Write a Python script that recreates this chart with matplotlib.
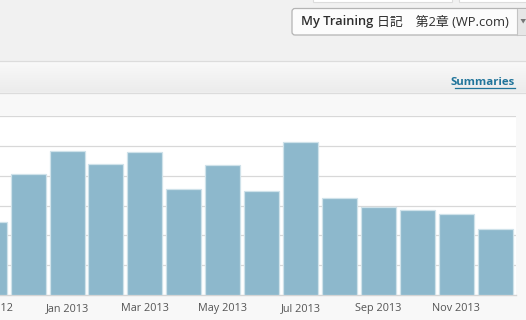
import matplotlib
matplotlib.use("Agg")
import matplotlib.pyplot as plt
from matplotlib.patches import Rectangle, FancyBboxPatch, Polygon
import numpy as np

# ---- data ----
months = ["Nov 2012", "Dec 2012", "Jan 2013", "Feb 2013", "Mar 2013", "Apr 2013",
          "May 2013", "Jun 2013", "Jul 2013", "Aug 2013", "Sep 2013", "Oct 2013",
          "Nov 2013", "Dec 2013"]
views = [244, 407, 483, 440, 478, 356, 437, 349, 514, 326, 294, 286, 271, 220]
tick_labels = ["Nov 2012", "Jan 2013", "Mar 2013", "May 2013", "Jul 2013", "Sep 2013", "Nov 2013"]
title_bold = "My Training"
title_rest = "日記　第2章 (WP.com)"
link_text = "Summaries"

W, H = 526, 320
fig = plt.figure(figsize=(W / 100, H / 100), dpi=100)
fig.patch.set_facecolor("#f1f1f1")

# overlay axes in pixel coordinates for page chrome
ui = fig.add_axes([0, 0, 1, 1])
ui.set_zorder(0)

grad = np.linspace(0, 1, 64).reshape(-1, 1)
ui.imshow(grad, extent=[0, W, 92, 61], cmap=matplotlib.colors.LinearSegmentedColormap.from_list(
    "g", ["#f9f9f9", "#ececec"]), aspect="auto", zorder=1)
ui.set_xlim(0, W)
ui.set_ylim(H, 0)
ui.axis("off")

# top strip input boxes
ui.add_patch(Rectangle((313, -2), 139, 3.5, facecolor="white", edgecolor="#dcdcdc", lw=0.8))
ui.add_patch(Rectangle((459, -2), 70, 3.5, facecolor="white", edgecolor="#dcdcdc", lw=0.8))

# dropdown
ui.add_patch(FancyBboxPatch((292, 8.5), 240, 26.5, boxstyle="round,pad=0,rounding_size=3",
                            facecolor="#fcfcfc", edgecolor="#b4b4b4", lw=0.9))
ui.add_patch(Rectangle((517, 9), 12, 25.5, facecolor="#e6e6e6", edgecolor="none"))
ui.plot([517, 517], [9, 34.5], color="#c4c4c4", lw=0.8)
ui.add_patch(Polygon([[520.5, 19], [526, 19], [523.2, 23.5]], closed=True,
                     facecolor="#777777", edgecolor="none"))
t1 = ui.text(301, 22, title_bold, fontsize=9.3, fontweight="semibold", color="#2e2e2e",
             family=["Open Sans", "Noto Sans CJK JP"], va="center", ha="left")
ui.annotate(title_rest, xy=(1, 0.5), xycoords=t1, xytext=(3, 0), textcoords="offset points",
            fontsize=9.3, color="#2e2e2e", family=["Open Sans", "Noto Sans CJK JP"],
            va="center", ha="left")

# header band
ui.plot([0, W], [61, 61], color="#dcdcdc", lw=0.9, zorder=2)
ui.plot([0, W], [92.5, 92.5], color="#dcdcdc", lw=0.9, zorder=2)
ui.add_patch(Rectangle((0, 93), W, 227, facecolor="#f8f8f8", edgecolor="none", zorder=1))
ui.text(515, 82.5, link_text, fontsize=8.2, fontweight="bold", color="#21759b",
        family="Open Sans", va="center", ha="right", zorder=3)
ui.plot([455, 515], [88, 88], color="#21759b", lw=0.9, zorder=3)
ui.add_patch(Rectangle((0, 116), 516, 179, facecolor="white", edgecolor="none", zorder=1))

# ---- chart axes ----
pitch = 38.92
c0 = -10.8
x_left = (0 - c0) / pitch
x_right = (516 - c0) / pitch
ax = fig.add_axes([0, 25 / H, 516 / W, 179 / H])
ax.set_zorder(2)
ax.patch.set_alpha(0)
x = np.arange(len(months))
ax.bar(x, views, width=0.9, color="#8db8cc", edgecolor="#cfe2ea", linewidth=0.9, zorder=3)
ax.set_ylim(0, 600)
ax.set_yticks(np.arange(100, 601, 100))
ax.yaxis.grid(True, color="#d8d8d8", lw=0.9, zorder=0)
ax.set_axisbelow(True)
ax.tick_params(left=False, labelleft=False, bottom=False, length=0)
for s in ["left", "right", "top"]:
    ax.spines[s].set_visible(False)
ax.spines["bottom"].set_color("#d4d4d4")
ax.spines["bottom"].set_linewidth(1.0)
tick_pos = [months.index(t) for t in tick_labels]
ax.set_xticks(tick_pos)
ax.set_xticklabels(tick_labels, fontsize=7.8, color="#555555", family="Open Sans")
ax.tick_params(axis="x", pad=5.5)
ax.set_xlim(x_left, x_right)

# labels whose tick lies left of the visible range (cut at the edge, as in the screenshot)
for pos, lab in zip(tick_pos, tick_labels):
    if pos < x_left:
        ax.annotate(lab, xy=(pos, 0), xycoords=ax.get_xaxis_transform(),
                    xytext=(0, -5.5), textcoords="offset points", ha="center", va="top",
                    fontsize=7.8, color="#555555", family="Open Sans", annotation_clip=False)

fig.savefig("out.png", dpi=100, facecolor=fig.get_facecolor())
